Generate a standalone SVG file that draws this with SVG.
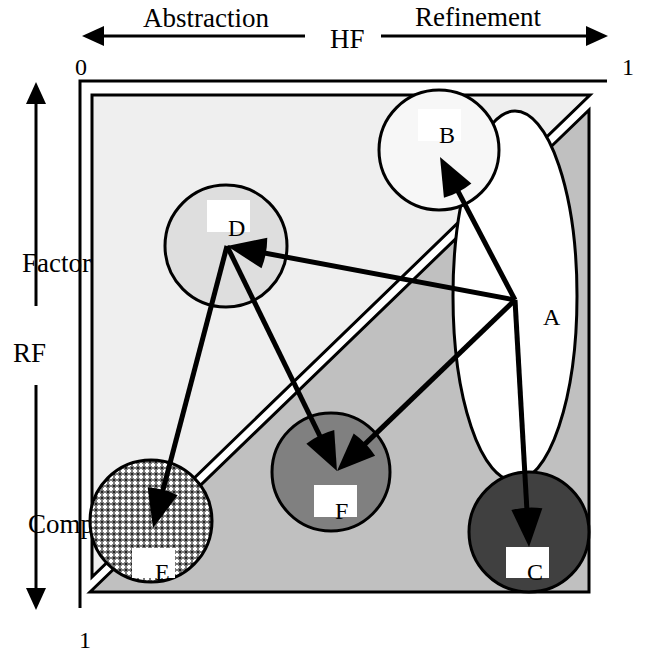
<svg xmlns="http://www.w3.org/2000/svg" width="645" height="654" viewBox="0 0 645 654">
  <style>
    .txt { font-family: "Liberation Serif", "Times New Roman", serif; font-size: 24px; fill: #000; }
    .big { font-size: 27px; }
    .axis { stroke: #000; stroke-width: 3; fill: none; }
    .frame { stroke: #000; stroke-width: 3; stroke-linejoin: miter; }
    .node { stroke: #000; stroke-width: 3; }
    .tag { fill: #fff; stroke: none; }
    .link { stroke: #000; stroke-width: 5; fill: none; marker-end: url(#head); }
  </style>
  <defs>
    <marker id="head" viewBox="-4 -18 44 36" markerWidth="44" markerHeight="36" refX="18" refY="0" orient="auto" markerUnits="userSpaceOnUse">
      <path d="M38,0 L0,-15.5 Q-3,0 0,15.5 Z" fill="#000"/>
    </marker>
    <!-- grey checker: light crosses with dark diamonds between -->
    <pattern id="checks" width="6" height="6" patternUnits="userSpaceOnUse">
      <rect width="6" height="6" fill="#7a7a7a"/>
      <rect x="1" y="2" width="4" height="2" fill="#fff"/>
      <rect x="2" y="1" width="2" height="4" fill="#fff"/>
      <rect x="-1" y="-1" width="2" height="2" fill="#222"/>
      <rect x="5" y="-1" width="2" height="2" fill="#222"/>
      <rect x="-1" y="5" width="2" height="2" fill="#222"/>
      <rect x="5" y="5" width="2" height="2" fill="#222"/>
    </pattern>
  </defs>

  <!-- axes -->
  <g id="axes">
    <line class="axis" x1="100" y1="36" x2="305" y2="36"/>
    <polygon points="82,36 104,26 104,46" fill="#000"/>
    <line class="axis" x1="381" y1="36" x2="590" y2="36"/>
    <polygon points="608,36 586,26 586,46" fill="#000"/>
    <line class="axis" x1="36" y1="100" x2="36" y2="306"/>
    <polygon points="36,82 26,104 46,104" fill="#000"/>
    <line class="axis" x1="36" y1="385" x2="36" y2="592"/>
    <polygon points="36,610 26,588 46,588" fill="#000"/>
    <text class="txt big" x="143" y="27">Abstraction</text>
    <text class="txt big" x="330" y="48">HF</text>
    <text class="txt big" x="415" y="26">Refinement</text>
    <text class="txt big" x="22" y="272">Factor</text>
    <text class="txt big" x="13" y="362">RF</text>
    <text class="txt big" x="28" y="533">Comp</text>
    <text class="txt" x="81" y="75" text-anchor="middle">0</text>
    <text class="txt" x="628" y="75" text-anchor="middle">1</text>
    <text class="txt" x="85" y="648" text-anchor="middle">1</text>
    <polyline class="axis" points="607,81 80,81 80,608"/>
  </g>

  <!-- regions -->
  <g id="regions">
    <polygon class="frame" points="92,95 590,95 92,577" fill="#efefef"/>
    <polygon class="frame" points="90,592 589,110 589,592" fill="#c0c0c0"/>
  </g>

  <g id="A">
    <ellipse class="node" cx="515" cy="296" rx="62" ry="185" fill="#fff" stroke-width="2.5"/>
    <text class="txt" x="543" y="325">A</text>
  </g>
  <g id="B">
    <circle class="node" cx="439" cy="150" r="60" fill="#f7f7f7"/>
    <rect class="tag" x="418" y="109" width="43" height="32"/>
    <text class="txt" x="439" y="143">B</text>
  </g>
  <g id="D">
    <circle class="node" cx="226" cy="246" r="61" fill="#dedede"/>
    <rect class="tag" x="207" y="200" width="43" height="32"/>
    <text class="txt" x="228" y="236">D</text>
  </g>
  <g id="E">
    <circle class="node" cx="151" cy="521" r="61" fill="url(#checks)"/>
    <rect class="tag" x="132" y="548" width="43" height="30"/>
    <text class="txt" x="155" y="580">E</text>
  </g>
  <g id="F">
    <circle class="node" cx="331" cy="472" r="59" fill="#808080"/>
    <rect class="tag" x="314" y="485" width="43" height="32"/>
    <text class="txt" x="335" y="519">F</text>
  </g>
  <g id="C">
    <circle class="node" cx="529" cy="532" r="60" fill="#404040"/>
    <rect class="tag" x="506" y="547" width="43" height="31"/>
    <text class="txt" x="527" y="580">C</text>
  </g>

  <!-- connectors -->
  <g id="connectors">
    <line class="link" x1="515" y1="300" x2="449.3" y2="174.7"/>
    <line class="link" x1="515" y1="300" x2="246.7" y2="249.7"/>
    <line class="link" x1="515" y1="300" x2="351.4" y2="457.1" stroke-width="7"/>
    <line class="link" x1="515" y1="300" x2="527.9" y2="527.0"/>
    <line class="link" x1="227" y1="246" x2="158.1" y2="508.7"/>
    <line class="link" x1="227" y1="246" x2="328.2" y2="453.0"/>
  </g>
</svg>
